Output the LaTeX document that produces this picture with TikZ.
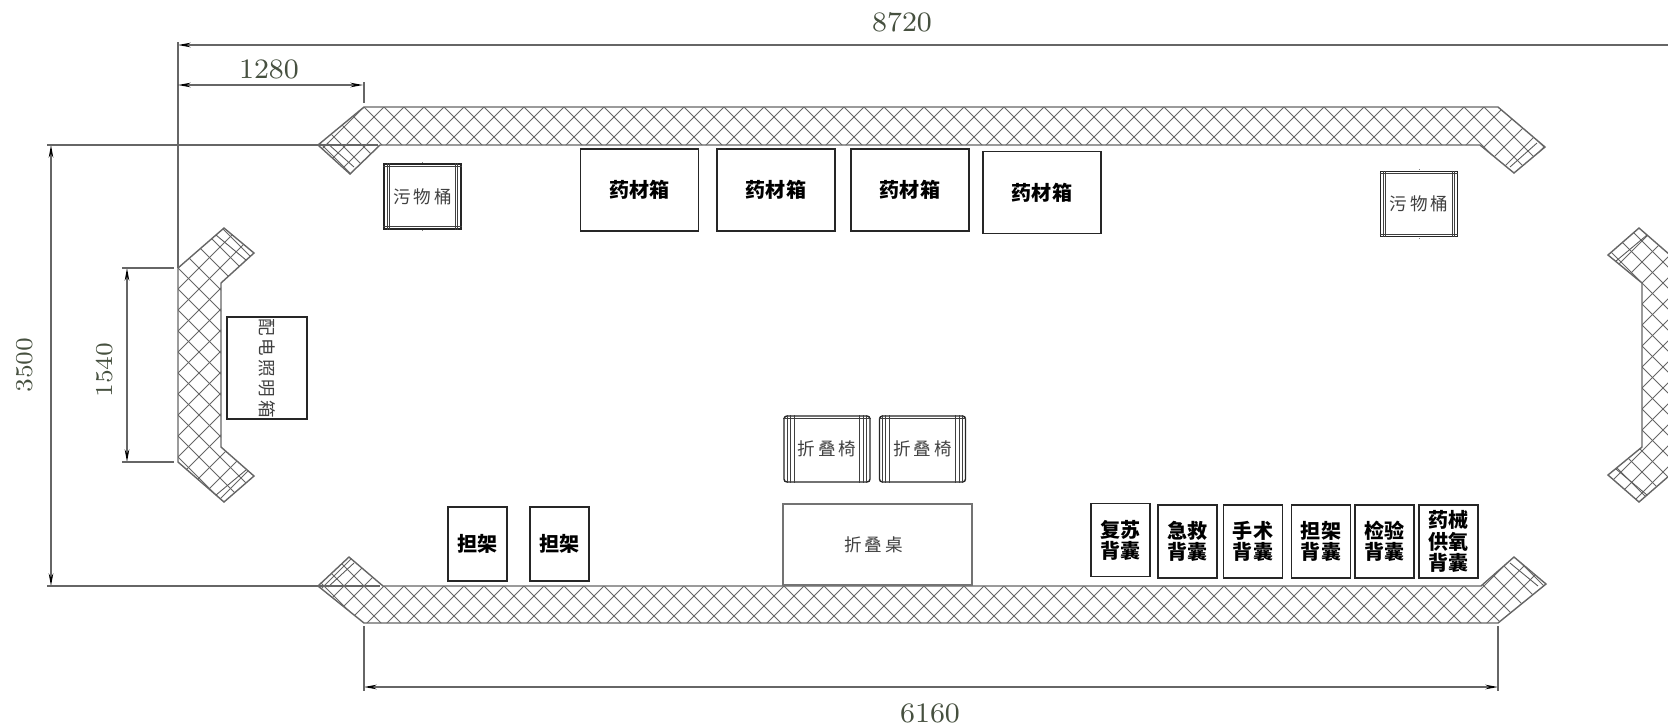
\documentclass[tikz,border=0pt]{standalone}
\usepackage{fontspec}
\usepackage{tikz}
\usetikzlibrary{arrows.meta}
\newfontfamily\cjk{Noto Sans CJK SC}
% wall: closed outline, crossed hatch clipped to it (outline, x0, y0, period)
\newcommand{\wallshape}[4]{
  \begin{scope}
    \clip #1 -- cycle;
    \foreach \k in {-100,...,100} {
      \draw[hatchline] ({#2+\k*#4-900},{#3-900}) -- ({#2+\k*#4+900},{#3+900});
      \draw[hatchline] ({#2+\k*#4+900},{#3-900}) -- ({#2+\k*#4-900},{#3+900});
    }
  \end{scope}
  \draw[wallline] #1 -- cycle;
}
\newcommand{\binlines}[1]{
  \foreach \d in {.04,.06} {
    \draw[thin line] ([xshift=\d cm]#1.north west) -- ([xshift=\d cm]#1.south west);
    \draw[thin line] ([xshift=-\d cm]#1.north east) -- ([xshift=-\d cm]#1.south east);
  }
  \draw[thin line] ([yshift=-.03cm]#1.north west) -- ([yshift=-.03cm]#1.north east);
  \draw[thin line] ([yshift=.03cm]#1.south west) -- ([yshift=.03cm]#1.south east);
  \draw[thin line,gray] ([yshift=.01cm]#1.north) ++(-.17,0) -- ++(.34,0);
  \draw[thin line,gray] ([yshift=-.01cm]#1.south) ++(-.17,0) -- ++(.34,0);
}
\newcommand{\seatlines}[1]{
  \foreach \d in {.04,.07,.11} {
    \draw[thin line] ([xshift=\d cm]#1.north west) -- ([xshift=\d cm]#1.south west);
    \draw[thin line] ([xshift=-\d cm]#1.north east) -- ([xshift=-\d cm]#1.south east);
  }
  \draw[thin line] ([yshift=-.03cm]#1.north west) -- ([yshift=-.03cm]#1.north east);
}
\begin{document}
\begin{tikzpicture}
    [x=.01cm, y=-.01cm,
      thin line/.style={line width=.3pt, color=black!75},
      hatchline/.style={line width=.22pt, color=black!60},
      wallline/.style={line width=.4pt, color=black!60},
      capline/.style={line width=.25pt, color=black!65},
      dimline/.style={line width=.4pt, color=black!60, {Stealth[length=3.6pt,width=1.3pt,black]}-{Stealth[length=3.6pt,width=1.3pt,black]}},
      dimend/.style={line width=.4pt, color=black!60},
      dimtext/.style={color=dimcolor, font=\fontsize{8}{9}\selectfont},
      sidetext/.style={dimtext, rotate=90, font=\fontsize{6.9}{8}\selectfont},
      boldbox/.style={draw=black!85, line width=.4pt, inner sep=0pt, align=center, font=\cjk\bfseries\fontsize{5.7}{6}\selectfont},
      thinbox/.style={draw=black!85, line width=.4pt, inner sep=0pt, align=center, text=black!75, font=\cjk\fontsize{5}{6}\selectfont},
      crate/.style={boldbox, minimum width=1.18cm, minimum height=.82cm},
      stretcher/.style={boldbox, minimum width=.59cm, minimum height=.74cm},
      bag/.style={boldbox, minimum width=.59cm, minimum height=.73cm},
      bin/.style={thinbox, minimum width=.77cm, minimum height=.65cm},
      seat/.style={thinbox, minimum width=.86cm, minimum height=.66cm, rounded corners=.03cm}]
    \definecolor{dimcolor}{HTML}{46503F}
    \clip (0,0) rectangle (1668,723);

    % walls
    \wallshape{(364,107) -- (1498,107) -- (1545,147) -- (1514,173) -- (1480,145) -- (380,145) -- (350,174) -- (318,145)}{364}{107}{20}
    \wallshape{(364,623) -- (1498,623) -- (1546,584) -- (1514,557) -- (1481,586) -- (383,586) -- (349,557) -- (318,586)}{364}{586}{20}
    \wallshape{(178,268) -- (224,228) -- (254,253) -- (221,283) -- (221,447) -- (254,476) -- (224,502) -- (178,462)}{178}{268}{21}
    \wallshape{(1685,268) -- (1639,228) -- (1608,255) -- (1642,283) -- (1642,447) -- (1608,475) -- (1639,502) -- (1685,462)}{1642}{283}{21}
    % inner lines near the wall ends
    \draw[capline] (327,143) -- (354,167);
    \draw[capline] (1537,143) -- (1510,167);
    \draw[capline] (328,587) -- (354,563);
    \draw[capline] (1538,586) -- (1510,563);
    \draw[capline] (216,235) -- (246,260);
    \draw[capline] (216,495) -- (246,470);
    \draw[capline] (1647,235) -- (1616,261);
    \draw[capline] (1647,495) -- (1616,469);

    % top row
    \node[crate] (crateA) at (639.5,190) {药材箱};
    \node[crate] (crateB) at (776,190) {药材箱};
    \node[crate] (crateC) at (910,190) {药材箱};
    \node[crate] (crateD) at (1042,192.5) {药材箱};
    \node[bin] (binA) at (422.5,196.5) {污\,物\,桶};
    \node[bin] (binB) at (1419,204) {污\,物\,桶};
    \binlines{binA}
    \binlines{binB}
    \node[thinbox, rotate=-90, minimum width=1.02cm, minimum height=.8cm] (lampbox) at (267,368) {配\,电\,照\,明\,箱};

    % middle and bottom row
    \node[seat] (seatA) at (827,449) {折\,叠\,椅};
    \node[seat] (seatB) at (922.5,449) {折\,叠\,椅};
    \seatlines{seatA}
    \seatlines{seatB}
    \node[thinbox, draw=black!55, minimum width=1.89cm, minimum height=.81cm] (table) at (877.5,544.5) {折\,叠\,桌\hspace{.08cm}};
    \node[stretcher] (stretcherA) at (477.5,544) {担架};
    \node[stretcher] (stretcherB) at (559.5,544) {担架};
    \node[bag] (bagA) at (1120.5,540) {复苏\\背囊};
    \node[bag] (bagB) at (1187.5,541.5) {急救\\背囊};
    \node[bag] (bagC) at (1253,541.5) {手术\\背囊};
    \node[bag] (bagD) at (1321,541.5) {担架\\背囊};
    \node[bag] (bagE) at (1384.5,541.5) {检验\\背囊};
    \node[bag] (bagF) at (1448.5,541.5) {药械\\供氧\\背囊};

    % dimensions
    \coordinate (totalL) at (178,45);
    \coordinate (totalR) at (1700,45);
    \coordinate (totalE) at (178,42);
    \coordinate (sideE) at (178,268);
    \coordinate (stepL) at (178,85);
    \coordinate (stepR) at (363,85);
    \coordinate (stepT) at (364,82);
    \coordinate (stepB) at (364,103);
    \coordinate (heightT) at (51,145);
    \coordinate (heightB) at (51,586);
    \coordinate (heightEA) at (47,145);
    \coordinate (heightEB) at (378,145);
    \coordinate (heightEC) at (47,586);
    \coordinate (heightED) at (380,586);
    \coordinate (sideT) at (127,268);
    \coordinate (sideB) at (127,462);
    \coordinate (sideEA) at (122,268);
    \coordinate (sideEB) at (174,268);
    \coordinate (sideEC) at (122,462);
    \coordinate (sideED) at (174,462);
    \coordinate (baseL) at (364,687);
    \coordinate (baseR) at (1498,687);
    \coordinate (baseEA) at (364,626);
    \coordinate (baseEB) at (364,691);
    \coordinate (baseEC) at (1498,626);
    \coordinate (baseED) at (1498,691);
    \draw[dimline] (totalL) -- (totalR);
    \draw[dimend] (totalE) -- (sideE);
    \draw[dimline] (stepL) -- (stepR);
    \draw[dimend] (stepT) -- (stepB);
    \draw[dimline] (heightT) -- (heightB);
    \draw[dimend] (heightEA) -- (heightEB);
    \draw[dimend] (heightEC) -- (heightED);
    \draw[dimline] (sideT) -- (sideB);
    \draw[dimend] (sideEA) -- (sideEB);
    \draw[dimend] (sideEC) -- (sideED);
    \draw[dimline] (baseL) -- (baseR);
    \draw[dimend] (baseEA) -- (baseEB);
    \draw[dimend] (baseEC) -- (baseED);
    \node[dimtext] (totalText) at (902,22) {8720};
    \node[dimtext] (stepText) at (269,69) {1280};
    \node[sidetext] (heightText) at (25,365) {3500};
    \node[sidetext] (sideText) at (105,370) {1540};
    \node[dimtext] (baseText) at (930,713) {6160};
\end{tikzpicture}
\end{document}
